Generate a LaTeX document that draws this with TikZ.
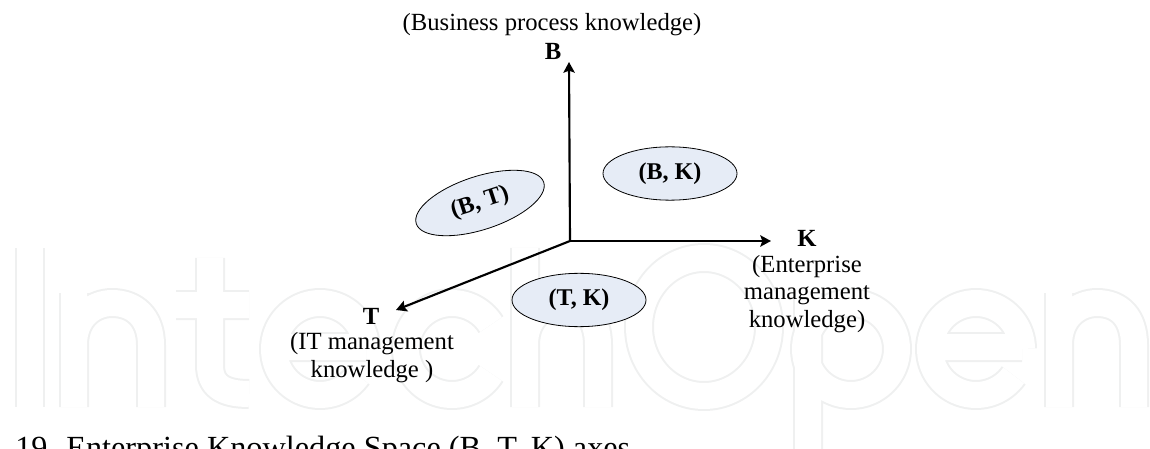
\documentclass[tikz,border=0pt]{standalone}
\usepackage{fontspec}
\setmainfont{Liberation Serif}
\newfontfamily\capfont{Liberation Serif}
\usetikzlibrary{arrows.meta,shapes.geometric}
\definecolor{wmark}{HTML}{EFF0F0}
\definecolor{lobe}{HTML}{E6ECF6}
\tikzset{
  wm/.style={draw=wmark,line width=1.5pt,double=white,double distance=19.5pt,line join=round},
  axis/.style={line width=1.6pt,-{Stealth[length=8pt,width=8.5pt,inset=1.5pt]}},
  lobenode/.style={ellipse,draw=black,line width=0.6pt,fill=lobe,inner sep=0pt,minimum width=100.5pt,minimum height=40pt,font=\fontsize{18}{20}\selectfont\bfseries},
  lab/.style={font=\fontsize{18.5}{20.7}\selectfont,align=center,inner sep=0pt},
  blab/.style={font=\fontsize{18.5}{20}\selectfont\bfseries,inner sep=0pt}
}
\begin{document}
\begin{tikzpicture}[x=0.75pt,y=-0.75pt]
\useasboundingbox (0,0) rectangle (1150,449);
\clip (0,0) rectangle (1150,449);
% watermark
\draw[wm] (30,248)--(30,407);
\draw[wm] (74,293)--(74,407) (74,345) .. controls (74,315) and (95,303) .. (112,303) .. controls (135,303) and (151,318) .. (151,345) -- (151,407);
\draw[wm] (210,258)--(210,365) .. controls (210,385) and (222,394) .. (249,394) (176,305)--(249,305);
\draw[wm] (274,347)--(366,347) plot[domain=0:325,samples=70] ({320+46*cos(\x)},{349-46*sin(\x)});
\draw[wm] plot[domain=32:328,samples=70] ({452+46*cos(\x)},{349-46*sin(\x)});
\draw[wm] (525,248)--(525,407) (525,345) .. controls (525,315) and (546,303) .. (563,303) .. controls (584,303) and (598,318) .. (598,345) -- (598,407);
\draw[wm] (704,327) ellipse [x radius=65,y radius=69];
\draw[wm] (808,293)--(808,470) (851,349) circle [radius=46];
\draw[wm] (930,347)--(1022,347) plot[domain=0:325,samples=70] ({976+46*cos(\x)},{349-46*sin(\x)});
\draw[wm] (1059,293)--(1059,407) (1059,345) .. controls (1059,315) and (1080,303) .. (1097,303) .. controls (1120,303) and (1134,318) .. (1134,345) -- (1134,407);
% axes
\coordinate (o) at (570,241);
\coordinate (bt) at (569,62);
\coordinate (kt) at (771,241);
\coordinate (tt) at (396,310);
\draw[axis,shorten <=-0.7pt] (o) -- (bt);
\draw[axis] (o) -- (kt);
\draw[axis] (o) -- (tt);
% lobes
\node[lobenode] (bk) at (670,173.5) {(B, K)};
\node[lobenode,rotate=18] (bts) at (480,203) {(B, T)};
\node[lobenode] (tk) at (579,300) {(T, K)};
% labels
\node[lab] (bn) at (552,25) {(Business process knowledge)};
\node[blab] (b) at (553,51) {B};
\node[blab] (k) at (807,238) {K};
\node[lab] (kn) at (807,294) {(Enterprise\\management\\knowledge)};
\node[blab] (t) at (371,316) {T};
\node[lab] (tn) at (372,357.5) {(IT management\\knowledge )};
\node[anchor=base west,inner sep=0pt,font=\fontsize{24.2}{28}\selectfont\capfont] (cap) at (15,458) {19. Enterprise Knowledge Space (B, T, K) axes};
\end{tikzpicture}
\end{document}
